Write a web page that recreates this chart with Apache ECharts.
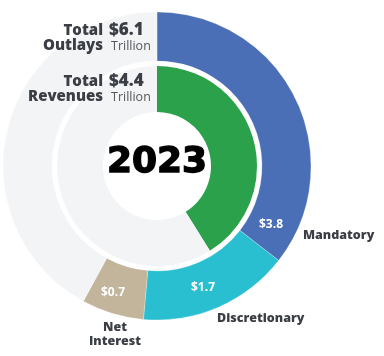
<!DOCTYPE html>
<html><head><meta charset="utf-8">
<script src="https://cdn.jsdelivr.net/npm/echarts@6/dist/echarts.min.js"></script>
<style>html,body{margin:0;padding:0;background:#fff;}#c{width:384px;height:356px;}</style>
</head><body><div id="c"></div>
<script>
const outlayCategories = ['Mandatory', 'Discretionary', 'Net Interest'];
const outlayValues = [3.8, 1.7, 0.7];
const totalOutlays = 6.1;
const totalRevenues = 4.4;
const ringScale = 10.7; // full-circle value used by the graphic
const year = '2023';

const outerColors = ['#4a6fb6', '#29bfd0', '#c2b59c'];
const gray = '#f3f4f6';
const textDark = '#3b3e44';
const F = '"Open Sans", Roboto, sans-serif';

const outlaySum = outlayValues.reduce((a, b) => a + b, 0);
const outerData = outlayCategories.map((n, i) => ({ name: n, value: outlayValues[i], itemStyle: { color: outerColors[i] } }));
outerData.push({ name: 'rest', value: ringScale - outlaySum, itemStyle: { color: gray } });
const innerData = [
  { name: 'Revenues', value: totalRevenues, itemStyle: { color: '#2ba14b' } },
  { name: 'rest', value: ringScale - totalRevenues, itemStyle: { color: gray } }
];

const cx = 157, cy = 166;
const chart = echarts.init(document.getElementById('c'));
const labelPos = [[271, 225], [203, 288], [113, 293]];
const namePos = [
  { x: 303, y: 235, align: 'left', text: 'Mandatory' },
  { x: 217, y: 318, align: 'left', text: 'Discretionary' },
  { x: 115, y: 334, align: 'center', text: 'Net\nInterest' }
];
const graphics = [];
outlayValues.forEach((v, i) => {
  graphics.push({ type: 'text', z: 100, x: labelPos[i][0], y: labelPos[i][1], style: { text: '$' + v.toFixed(1), fill: '#fff', font: 'bold 12px ' + F, textAlign: 'center', textVerticalAlign: 'middle' } });
  graphics.push({ type: 'text', z: 100, x: namePos[i].x, y: namePos[i].y, style: { text: namePos[i].text, fill: textDark, font: '800 12.5px ' + F, textAlign: namePos[i].align, textVerticalAlign: 'middle', lineHeight: 14 } });
});
function totalBlock(y, word, val) {
  graphics.push({ type: 'text', z: 100, x: 103, y: y, style: { text: 'Total\n' + word, fill: textDark, font: '800 15px ' + F, textAlign: 'right', textVerticalAlign: 'middle', lineHeight: 15 } });
  graphics.push({ type: 'text', z: 100, x: 109, y: y - 8, style: { text: '$' + val.toFixed(1), fill: textDark, font: '800 17px ' + F, textAlign: 'left', textVerticalAlign: 'middle' } });
  graphics.push({ type: 'text', z: 100, x: 111, y: y + 8, style: { text: 'Trillion', fill: '#55585d', font: '12.5px ' + F, textAlign: 'left', textVerticalAlign: 'middle' } });
}
totalBlock(38, 'Outlays', totalOutlays);
totalBlock(89, 'Revenues', totalRevenues);
graphics.push({ type: 'text', z: 100, x: cx, y: 163, style: { text: year, fill: '#000', font: 'bold 36px "DejaVu Sans", ' + F, textAlign: 'center', textVerticalAlign: 'middle', stroke: '#000', lineWidth: 1.4 } });

chart.setOption({
  animation: false,
  series: [
    { type: 'pie', z: 1, center: [cx, cy], radius: [105, 154], startAngle: 90, clockwise: true, label: { show: false }, labelLine: { show: false }, silent: true,
      itemStyle: { borderColor: 'rgba(255,255,255,0.5)', borderWidth: 0.5 }, data: outerData },
    { type: 'pie', z: 1, center: [cx, cy], radius: [54, 100], startAngle: 90, clockwise: true, label: { show: false }, labelLine: { show: false }, silent: true, data: innerData }
  ],
  graphic: graphics
});
</script></body></html>
